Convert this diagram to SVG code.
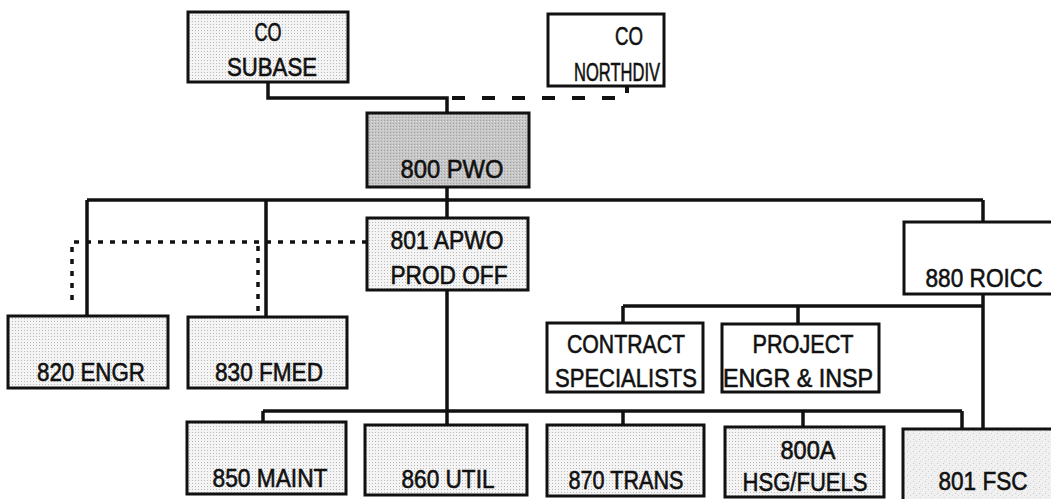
<svg xmlns="http://www.w3.org/2000/svg" width="1051" height="499" viewBox="0 0 1051 499">
  <defs>
    <pattern id="dots" width="3" height="3" patternUnits="userSpaceOnUse">
      <rect width="3" height="3" fill="#f4f4f4"/>
      <rect width="1" height="1" fill="#b8b8b8"/>
    </pattern>
    <pattern id="grey" width="3" height="3" patternUnits="userSpaceOnUse">
      <rect width="3" height="3" fill="#c6c6c6"/>
      <rect width="1" height="1" fill="#a0a0a0"/>
      <rect x="2" y="1" width="1" height="1" fill="#dcdcdc"/>
    </pattern>
    <pattern id="mottle" width="6" height="6" patternUnits="userSpaceOnUse">
      <rect width="6" height="6" fill="#f0f0f0"/>
      <rect x="1" y="1" width="1" height="1" fill="#c8c8c8"/>
      <rect x="4" y="3" width="1" height="1" fill="#d0d0d0"/>
      <rect x="2" y="5" width="1" height="1" fill="#dadada"/>
    </pattern>
    <style>
      .box { stroke: #111; stroke-width: 3; }
      .white { fill: #ffffff; }
      .dotted { fill: url(#dots); }
      .grey { fill: url(#grey); }
      .mottle { fill: url(#mottle); }
      .t { font-family: "Liberation Sans", Arial, sans-serif; font-size: 26px; fill: #111; stroke: #111; stroke-width: 0.6; text-anchor: middle; }
      .line { fill: none; stroke: #111; stroke-width: 3.5; }
      .dash { fill: none; stroke: #111; stroke-width: 4; stroke-dasharray: 13 17; }
      .dot { fill: none; stroke: #111; stroke-width: 3.5; stroke-dasharray: 5 7; }
    </style>
  </defs>

  <g id="connectors">
    <polyline class="line" points="268,82 268,98 447,98 447,113"/>
    <polyline class="dash" points="452,98 627,98 627,86"/>
    <line class="line" x1="447" y1="187" x2="447" y2="218"/>
    <line class="line" x1="87" y1="200" x2="983" y2="200"/>
    <line class="line" x1="87" y1="200" x2="87" y2="316"/>
    <line class="line" x1="266" y1="200" x2="266" y2="317"/>
    <line class="line" x1="983" y1="200" x2="983" y2="222"/>
    <polyline class="dot" points="367,242 72,242 72,300"/>
    <line class="dot" x1="258" y1="246" x2="258" y2="316"/>
    <line class="line" x1="447" y1="290" x2="447" y2="425"/>
    <line class="line" x1="983" y1="294" x2="983" y2="429"/>
    <line class="line" x1="623" y1="306" x2="983" y2="306"/>
    <line class="line" x1="623" y1="306" x2="623" y2="323"/>
    <line class="line" x1="798" y1="306" x2="798" y2="324"/>
    <line class="line" x1="263" y1="411" x2="962" y2="411"/>
    <line class="line" x1="263" y1="411" x2="263" y2="422"/>
    <line class="line" x1="623" y1="411" x2="623" y2="425"/>
    <line class="line" x1="803" y1="411" x2="803" y2="427"/>
    <line class="line" x1="962" y1="411" x2="962" y2="429"/>
  </g>

  <g id="co-subase">
    <rect class="box dotted" x="188" y="12" width="160" height="70"/>
    <text class="t" x="268" y="41" textLength="27" lengthAdjust="spacingAndGlyphs">CO</text>
    <text class="t" x="272" y="76" textLength="90" lengthAdjust="spacingAndGlyphs">SUBASE</text>
  </g>
  <g id="co-northdiv">
    <rect class="box white" x="548" y="14" width="116" height="72"/>
    <text class="t" x="629" y="45" textLength="28" lengthAdjust="spacingAndGlyphs">CO</text>
    <text class="t" x="617" y="81" textLength="86" lengthAdjust="spacingAndGlyphs">NORTHDIV</text>
  </g>
  <g id="pwo-800">
    <rect class="box grey" x="367" y="113" width="162" height="74"/>
    <text class="t" x="452" y="178" textLength="103" lengthAdjust="spacingAndGlyphs">800 PWO</text>
  </g>
  <g id="apwo-801">
    <rect class="box dotted" x="367" y="218" width="161" height="72"/>
    <text class="t" x="447" y="249" textLength="113" lengthAdjust="spacingAndGlyphs">801 APWO</text>
    <text class="t" x="449" y="284" textLength="117" lengthAdjust="spacingAndGlyphs">PROD OFF</text>
  </g>
  <g id="roicc-880">
    <rect class="box white" x="904" y="222" width="160" height="72"/>
    <text class="t" x="984" y="287" font-size="23" textLength="117" lengthAdjust="spacingAndGlyphs">880 ROICC</text>
  </g>
  <g id="engr-820">
    <rect class="box dotted" x="8" y="316" width="160" height="72"/>
    <text class="t" x="91" y="381" textLength="108" lengthAdjust="spacingAndGlyphs">820 ENGR</text>
  </g>
  <g id="fmed-830">
    <rect class="box dotted" x="188" y="317" width="159" height="71"/>
    <text class="t" x="269" y="381" textLength="108" lengthAdjust="spacingAndGlyphs">830 FMED</text>
  </g>
  <g id="contract-specialists">
    <rect class="box white" x="547" y="323" width="156" height="69"/>
    <text class="t" x="626" y="353" textLength="118" lengthAdjust="spacingAndGlyphs">CONTRACT</text>
    <text class="t" x="626" y="387" textLength="142" lengthAdjust="spacingAndGlyphs">SPECIALISTS</text>
  </g>
  <g id="project-engr-insp">
    <rect class="box white" x="722" y="324" width="157" height="68"/>
    <text class="t" x="803" y="353" textLength="101" lengthAdjust="spacingAndGlyphs">PROJECT</text>
    <text class="t" x="798" y="387" textLength="150" lengthAdjust="spacingAndGlyphs">ENGR &amp; INSP</text>
  </g>
  <g id="maint-850">
    <rect class="box dotted" x="187" y="422" width="159" height="72"/>
    <text class="t" x="270" y="487" textLength="115" lengthAdjust="spacingAndGlyphs">850 MAINT</text>
  </g>
  <g id="util-860">
    <rect class="box dotted" x="365" y="425" width="162" height="70"/>
    <text class="t" x="448" y="488" textLength="93" lengthAdjust="spacingAndGlyphs">860 UTIL</text>
  </g>
  <g id="trans-870">
    <rect class="box dotted" x="547" y="425" width="157" height="71"/>
    <text class="t" x="626" y="489" textLength="115" lengthAdjust="spacingAndGlyphs">870 TRANS</text>
  </g>
  <g id="hsg-fuels-800a">
    <rect class="box dotted" x="725" y="427" width="159" height="70"/>
    <text class="t" x="808" y="459" textLength="55" lengthAdjust="spacingAndGlyphs">800A</text>
    <text class="t" x="805" y="491" textLength="125" lengthAdjust="spacingAndGlyphs">HSG/FUELS</text>
  </g>
  <g id="fsc-801">
    <rect class="box mottle" x="903" y="429" width="160" height="72"/>
    <text class="t" x="983" y="490" textLength="89" lengthAdjust="spacingAndGlyphs">801 FSC</text>
  </g>
</svg>
